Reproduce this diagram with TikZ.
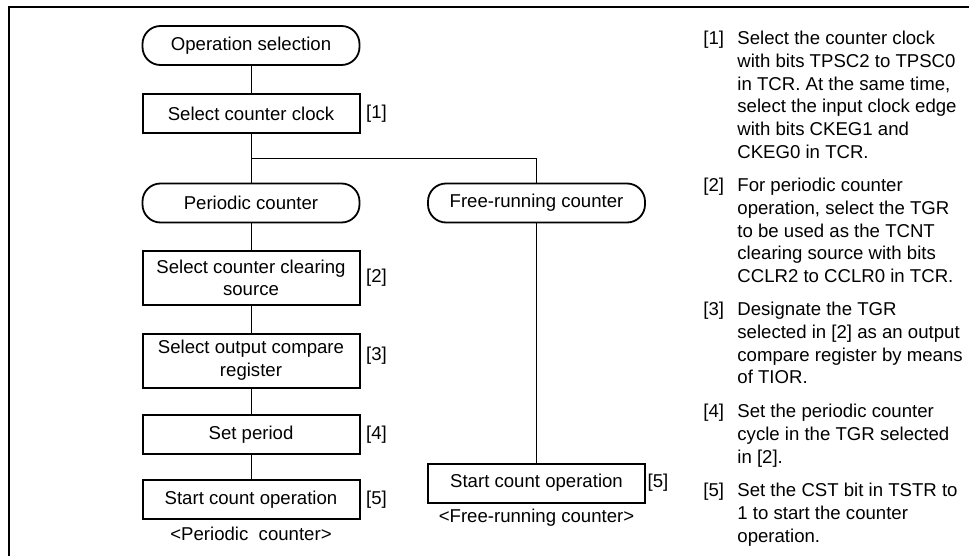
\documentclass[tikz,border=0pt]{standalone}
\usepackage{fontspec}
\setmainfont{Liberation Sans}
\usetikzlibrary{calc}

\begin{document}
\begin{tikzpicture}[x=0.5pt,y=-0.5pt,
     font=\fontsize{9.3}{11.35}\selectfont,
     block/.style = {draw, rectangle, line width=1pt, minimum width=108.5pt,
      minimum height=19.5pt, inner sep=0pt, align=center},
     terminal/.style = {draw, rectangle, rounded corners=9pt, line width=0.9pt,
      minimum width=108.5pt, minimum height=19.5pt, inner sep=0pt},
     tag/.style = {inner sep=0pt, node distance=62.75pt},
     caption/.style = {inner sep=0pt, node distance=17.25pt},
     note/.style = {anchor=north west, inner sep=0pt, align=left},
     line/.style = {draw, line width=0.5pt}
    ]
    \useasboundingbox (0,0) rectangle (969,556);
    \draw[line width=1pt] (9,556) -- (9,7) -- (969,7);

    % periodic counter branch
    \node [terminal] (opsel) at (251,45.5) {Operation selection};
    \node [block, below of=opsel, node distance=34.25pt] (clock) {Select counter clock};
    \node [terminal, below of=clock, node distance=44.5pt] (periodic) {Periodic counter};
    \node [block, below of=periodic, node distance=37.5pt, minimum height=27pt] (clear)
      {Select counter clearing\\source};
    \node [block, below of=clear, node distance=41.25pt, minimum height=27pt] (compare)
      {Select output compare\\register};
    \node [block, below of=compare, node distance=37pt] (period) {Set period};
    \node [block, below of=period, node distance=32.5pt] (startp) {Start count operation};
    \node [caption, below of=startp] (capp) {<Periodic\ \ counter>};

    % free-running counter branch
    \node [terminal, right of=periodic, node distance=142.75pt] (free) {Free-running counter};
    \node [block, below of=free, node distance=140pt] (startf) {Start count operation};
    \node [caption, below of=startf] (capf) {<Free-running counter>};

    \node [tag, right of=clock] (t1) {[1]};
    \node [tag, right of=clear] (t2) {[2]};
    \node [tag, right of=compare, yshift=2.5pt] (t3) {[3]};
    \node [tag, right of=period] (t4) {[4]};
    \node [tag, right of=startp] (t5) {[5]};
    \node [tag, right of=startf, node distance=60.75pt] (t5f) {[5]};

    \coordinate (split) at ($(clock.south)!0.5!(periodic.north)$);
    \draw[line] (opsel) -- (clock);
    \draw[line] (clock) -- (periodic);
    \draw[line] (split) -| (free);
    \draw[line] (periodic) -- (clear);
    \draw[line] (clear) -- (compare);
    \draw[line] (compare) -- (period);
    \draw[line] (period) -- (startp);
    \draw[line] (free) -- (startf);

    % notes on the right
    \node [note] (n1) at (737,31) {Select the counter clock\\with bits TPSC2 to TPSC0\\in TCR. At the same time,\\select the input clock edge\\with bits CKEG1 and\\CKEG0 in TCR.};
    \node [note] (n2) at (737,178) {For periodic counter\\operation, select the TGR\\to be used as the TCNT\\clearing source with bits\\CCLR2 to CCLR0 in TCR.};
    \node [note] (n3) at (737,302) {Designate the TGR\\selected in [2] as an output\\compare register by means\\of TIOR.};
    \node [note] (n4) at (737,404) {Set the periodic counter\\cycle in the TGR selected\\in [2].};
    \node [note] (n5) at (737,483) {Set the CST bit in TSTR to\\1 to start the counter\\operation.};
    \node [note] at (703,31) {[1]};
    \node [note] at (703,178) {[2]};
    \node [note] at (703,302) {[3]};
    \node [note] at (703,404) {[4]};
    \node [note] at (703,483) {[5]};
\end{tikzpicture}
\end{document}
